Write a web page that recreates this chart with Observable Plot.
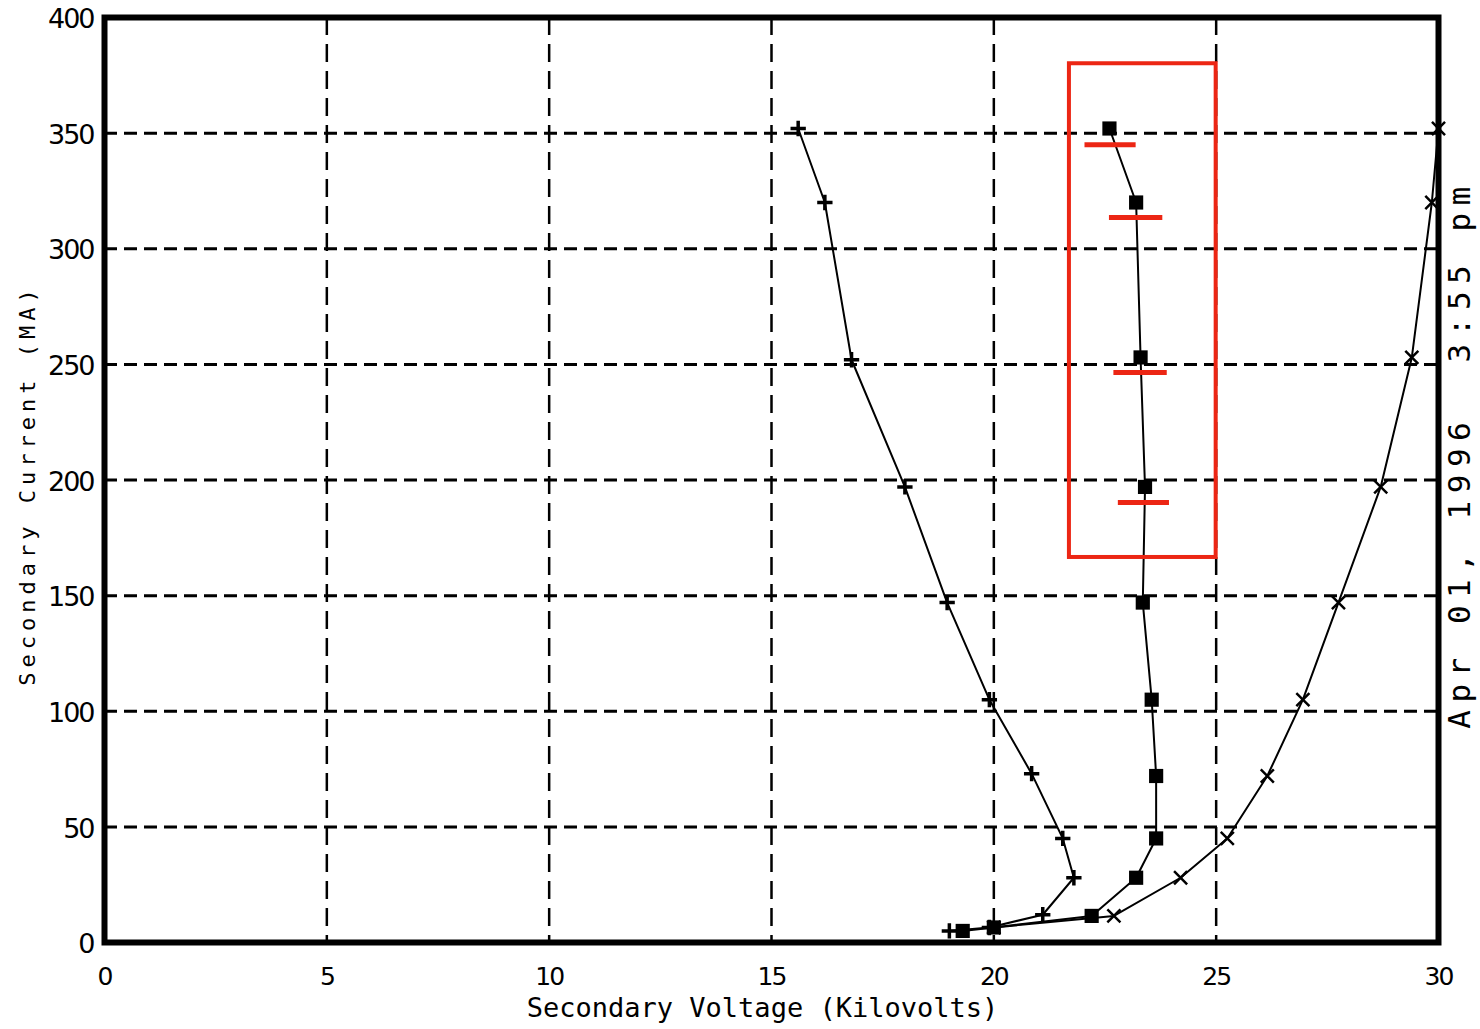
<!DOCTYPE html>
<html><head><meta charset="utf-8">
<script src="https://cdn.jsdelivr.net/npm/d3@7"></script>
<script src="https://cdn.jsdelivr.net/npm/@observablehq/plot@0.6"></script>
<style>
html,body{margin:0;padding:0;background:#fff;}
#chart svg{display:block;}
.ylab text{letter-spacing:5px;}
.rlab text{letter-spacing:7.5px;}
.tick text{letter-spacing:-2px;}
</style></head><body><div id="chart"></div>
<script>
// Tick values
const xTicks = [0, 5, 10, 15, 20, 25, 30];
const yTicks = [0, 50, 100, 150, 200, 250, 300, 350, 400];
const xGrid = [5, 10, 15, 20, 25];
const yGrid = [50, 100, 150, 200, 250, 300, 350];

// Series 1 (plus markers)
const voltage1 = [19.0, 19.9, 21.1, 21.8, 21.55, 20.85, 19.9, 18.95, 18.0, 16.8, 16.2, 15.6];
const current1 = [5, 6.5, 12, 28, 45, 73, 105, 147, 197, 252, 320, 352];
// Series 2 (filled squares)
const voltage2 = [19.3, 20.0, 22.2, 23.2, 23.65, 23.65, 23.55, 23.35, 23.4, 23.3, 23.2, 22.6];
const current2 = [5, 6.5, 11.5, 28, 45, 72, 105, 147, 197, 253, 320, 352];
// Series 3 (x markers)
const voltage3 = [20.0, 22.7, 24.2, 25.25, 26.15, 26.95, 27.75, 28.7, 29.4, 29.85, 30.0];
const current3 = [6.5, 11.5, 28, 45, 72, 105, 147, 197, 253, 320, 352];

// Red annotation: horizontal bars and box
const barCurrent = [345, 313.5, 246.5, 190.3];
const barLow = [22.05, 22.6, 22.7, 22.8];
const barHigh = [23.2, 23.8, 23.9, 23.95];
const boxVoltage = [21.7, 25.0];
const boxCurrent = [166.5, 380];

const xLabel = "Secondary Voltage (Kilovolts)";
const yLabel = "Secondary Current (MA)";
const stamp = "Apr 01, 1996  3:55 pm";

const toRows = (vs, cs) => vs.map((v, i) => ({v, c: cs[i]}));
const s1 = toRows(voltage1, current1);
const s2 = toRows(voltage2, current2);
const s3 = toRows(voltage3, current3);
const bars = barCurrent.map((c, i) => ({c, lo: barLow[i], hi: barHigh[i]}));
const box = [{x1: boxVoltage[0], x2: boxVoltage[1], y1: boxCurrent[0], y2: boxCurrent[1]}];

const tickFont = "'DejaVu Sans',sans-serif";
const monoFont = "'DejaVu Sans Mono','Liberation Mono',monospace";
const red = "#ec2614";

const chart = Plot.plot({
  width: 1480,
  height: 1029,
  marginLeft: 104,
  marginRight: 42,
  marginTop: 17,
  marginBottom: 87,
  style: {background: "white"},
  x: {domain: [0, 30], axis: null},
  y: {domain: [0, 400], axis: null},
  marks: [
    Plot.ruleX(xGrid, {x: d => d, stroke: "black", strokeWidth: 2.5, strokeDasharray: "18,9"}),
    Plot.ruleY(yGrid, {y: d => d, stroke: "black", strokeWidth: 3, strokeDasharray: "13,7"}),
    Plot.line(s1, {x: "v", y: "c", stroke: "black", strokeWidth: 2}),
    Plot.line(s2, {x: "v", y: "c", stroke: "black", strokeWidth: 2}),
    Plot.line(s3, {x: "v", y: "c", stroke: "black", strokeWidth: 2}),
    Plot.dot(s1, {x: "v", y: "c", symbol: "plus", r: 5, stroke: "black", strokeWidth: 3.5}),
    Plot.dot(s2, {x: "v", y: "c", symbol: "square", r: 8, fill: "black", stroke: "none"}),
    Plot.dot(s3, {x: "v", y: "c", symbol: "times", r: 6, stroke: "black", strokeWidth: 2.5}),
    Plot.rect(box, {x1: "x1", x2: "x2", y1: "y1", y2: "y2", fill: "none", stroke: red, strokeWidth: 4}),
    Plot.ruleY(bars, {y: "c", x1: "lo", x2: "hi", stroke: red, strokeWidth: 5}),
    Plot.frame({stroke: "black", strokeWidth: 6}),
    Plot.text(xTicks, {x: d => d, text: d => String(d), frameAnchor: "bottom", lineAnchor: "middle", dy: 34, fontSize: 25, fontFamily: tickFont, fill: "black", className: "tick"}),
    Plot.text(yTicks, {y: d => d, text: d => String(d), frameAnchor: "left", textAnchor: "end", lineAnchor: "middle", dx: -11, dy: 2, fontSize: 27, fontFamily: tickFont, fill: "black", className: "tick"}),
    Plot.text([xLabel], {text: d => d, frameAnchor: "bottom", textAnchor: "middle", lineAnchor: "middle", dx: -9, dy: 66, fontSize: 27, fontFamily: monoFont, fill: "black", className: "xlab"}),
    Plot.text([yLabel], {text: d => d, frameAnchor: "left", textAnchor: "middle", lineAnchor: "middle", dx: -77, dy: 5, rotate: -90, fontSize: 22, fontFamily: monoFont, fill: "black", className: "ylab"}),
    Plot.text([stamp], {text: d => d, frameAnchor: "right", textAnchor: "middle", lineAnchor: "middle", dx: 22, dy: -26, rotate: -90, fontSize: 31, fontFamily: monoFont, fill: "black", className: "rlab"})
  ]
});
document.getElementById("chart").appendChild(chart);
</script></body></html>
